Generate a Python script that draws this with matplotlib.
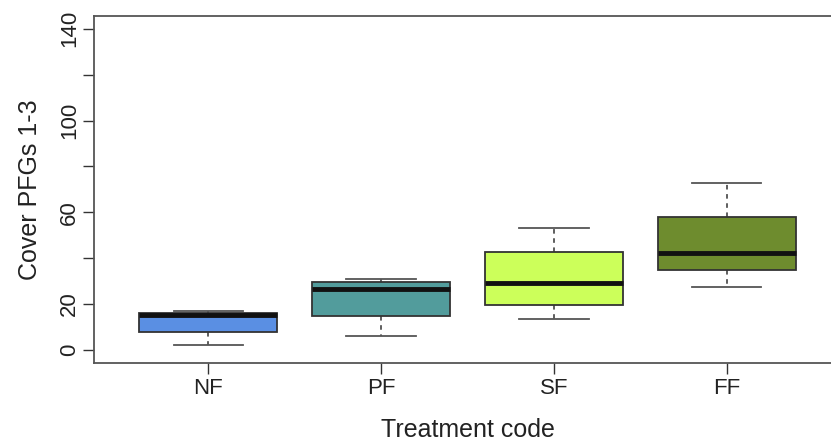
import matplotlib.pyplot as plt

plt.rcParams["font.family"] = ["Liberation Sans", "DejaVu Sans"]

# Treatment groups and five-number summaries of cover (%)
treatments = ["NF", "PF", "SF", "FF"]
whisker_low = [2.2, 6.1, 13.4, 27.5]
q1 = [7.9, 14.8, 19.7, 34.8]
medians = [15.3, 26.6, 29.3, 42.4]
q3 = [16.2, 29.7, 42.7, 57.8]
whisker_high = [17.0, 31.0, 53.1, 72.8]
fill_colors = ["#5a8fe3", "#529c9c", "#ccff5a", "#6e8c2e"]

y_ticks = [0, 20, 40, 60, 80, 100, 120, 140]
y_labels = ["0", "20", "", "60", "", "100", "", "140"]

stats = [
    {"label": t, "whislo": lo, "q1": a, "med": m, "q3": b, "whishi": hi}
    for t, lo, a, m, b, hi in zip(treatments, whisker_low, q1, medians, q3, whisker_high)
]

fig = plt.figure(figsize=(8.31, 4.46), dpi=100)
# right edge of the frame runs past the canvas
ax = fig.add_axes([94 / 831, 83.5 / 446, 747 / 831, 346.5 / 446])

positions = range(1, len(treatments) + 1)
parts = ax.bxp(
    stats,
    positions=positions,
    widths=0.8,
    patch_artist=True,
    showfliers=False,
    boxprops=dict(edgecolor="#333333", linewidth=1.3),
    whiskerprops=dict(color="#333333", linestyle=(0, (3, 3)), linewidth=1.1),
    capprops=dict(color="#555555", linewidth=1.3),
    medianprops=dict(color="#111111", linewidth=3.5, solid_capstyle="butt"),
)
for patch, color in zip(parts["boxes"], fill_colors):
    patch.set_facecolor(color)
for cap in parts["caps"]:
    x0, x1 = cap.get_xdata()
    mid = (x0 + x1) / 2
    cap.set_xdata([mid - 0.2, mid + 0.2])

ax.set_xlim(0.34, 4.66)
ax.set_ylim(-5.6, 145.6)
ax.set_xticks(list(positions))
ax.set_xticklabels(treatments, fontsize=16)
ax.set_yticks(y_ticks)
ax.set_yticklabels(y_labels, fontsize=16, rotation=90, va="center")
ax.tick_params(axis="both", length=8, width=1.0, color="#333333", labelcolor="#222222")
ax.tick_params(axis="x", pad=3)
ax.tick_params(axis="y", pad=2)

for spine in ax.spines.values():
    spine.set_color("#555555")
    spine.set_linewidth(1.3)

ax.set_xlabel("Treatment code", fontsize=18, color="#222222", labelpad=14)
ax.set_ylabel("Cover PFGs 1-3", fontsize=18, color="#222222", labelpad=12)

fig.savefig("out.png", dpi=100)
